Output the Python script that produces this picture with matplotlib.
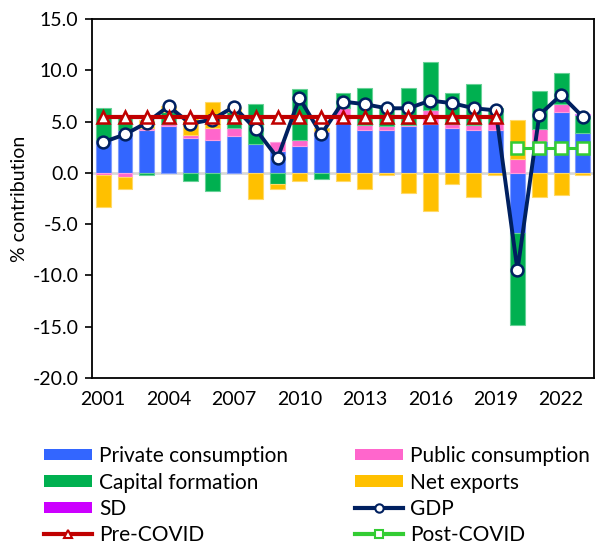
import matplotlib
matplotlib.use("Agg")
import matplotlib.pyplot as plt
from matplotlib.patches import Patch
from matplotlib.lines import Line2D
import numpy as np

years = list(range(2001, 2024))
private_cons = [3.2, 4.2, 4.2, 4.6, 3.4, 3.25, 3.6, 2.85, 2.1, 2.65, 4.0, 4.9, 4.15, 4.15, 4.55,
                4.8, 4.4, 4.15, 4.15, -5.85, 3.1, 5.95, 3.9]
public_cons = [-0.2, -0.4, 0.2, 0.15, 0.25, 1.15, 0.75, 0.0, 0.95, 0.6, 0.1, 1.45, 0.55, 0.4, 0.15,
               1.3, 0.4, 0.55, 0.7, 1.35, 1.15, 0.8, 0.0]
capital_form = [3.15, 1.15, -0.25, 1.2, -0.8, -1.8, 1.6, 3.9, -1.05, 4.9, -0.6, 1.4, 3.6, 2.0, 3.6,
                4.7, 3.0, 4.0, 1.5, -8.95, 3.7, 2.95, 1.7]
net_exports = [-3.15, -1.2, 0.75, 0.55, 1.95, 2.55, 0.5, -2.5, -0.55, -0.8, 0.25, -0.8, -1.6, -0.25, -2.0,
               -3.75, -1.05, -2.35, -0.25, 3.85, -2.35, -2.15, -0.25]
sd = [0, 0, 0, 0, 0, 0, 0, 0, 0, 0, 0, 0, 0, 0, 0, 0, 0, 0, 0, 0, 0, 0, 0.1]
gdp = [3.0, 3.75, 4.9, 6.5, 4.8, 5.2, 6.45, 4.25, 1.45, 7.3, 3.75, 6.95, 6.7, 6.3, 6.3,
       7.05, 6.8, 6.3, 6.1, -9.5, 5.65, 7.6, 5.45]
pre_years = list(range(2001, 2020))
pre_covid = [5.45] * 19
post_years = [2020, 2021, 2022, 2023]
post_covid = [2.4, 2.4, 2.4, 2.4]

xticks = [2001, 2004, 2007, 2010, 2013, 2016, 2019, 2022]
yticks = [15, 10, 5, 0, -5, -10, -15, -20]

plt.rcParams['font.family'] = ['Lato', 'DejaVu Sans']

fig = plt.figure(figsize=(5.95, 5.44), dpi=100)
ax = fig.add_axes([0.155, 0.305, 0.843, 0.66])

series = [
    ("Private consumption", private_cons, "#3366FF", "#7E9CFF"),
    ("Public consumption", public_cons, "#FF66CC", "#FF9EDD"),
    ("Capital formation", capital_form, "#00B050", "#66D196"),
    ("Net exports", net_exports, "#FFC000", "#FFD966"),
    ("SD", sd, "#CC00FF", "#E080FF"),
]

x = np.array(years, dtype=float)
pos_base = np.zeros(len(years))
neg_base = np.zeros(len(years))
for name, vals, col, ecol in series:
    v = np.array(vals, dtype=float)
    pm = v > 0
    nm = v < 0
    if pm.any():
        ax.bar(x[pm], v[pm], bottom=pos_base[pm], width=0.68, color=col, edgecolor=ecol,
               linewidth=0.8, zorder=2)
    if nm.any():
        ax.bar(x[nm], v[nm], bottom=neg_base[nm], width=0.68, color=col, edgecolor=ecol,
               linewidth=0.8, zorder=2)
    pos_base += np.where(pm, v, 0)
    neg_base += np.where(nm, v, 0)

ax.axhline(0, color="#D9D9D9", linewidth=2, zorder=1.5)

ax.plot(years, gdp, color="#002060", linewidth=2.8, marker="o", markersize=8.5,
        markerfacecolor="white", markeredgecolor="#002060", markeredgewidth=1.8, zorder=4)
ax.plot(pre_years, pre_covid, color="#C00000", linewidth=3, marker="^", markersize=9,
        markerfacecolor="white", markeredgecolor="#C00000", markeredgewidth=1.8, zorder=5)
ax.plot(post_years, post_covid, color="#33CC33", linewidth=2.2, marker="s", markersize=8,
        markerfacecolor="white", markeredgecolor="#33CC33", markeredgewidth=1.8, zorder=5)

ax.set_xlim(2000.5, 2023.5)
ax.set_ylim(-20, 15)
ax.set_yticks(yticks)
ax.set_yticklabels([f"{t:.1f}" for t in yticks], fontsize=14)
ax.set_xticks(xticks)
ax.set_xticklabels([str(t) for t in xticks], fontsize=14)
ax.tick_params(axis='x', length=0, pad=9)
ax.tick_params(axis='y', length=5, width=1.2, direction='out', pad=5)
for s in ax.spines.values():
    s.set_color("black")
    s.set_linewidth(1.3)
ax.set_ylabel("% contribution", fontsize=14, labelpad=3)

def line_handle(col, marker, ms):
    return Line2D([0], [0], color=col, linewidth=3, marker=marker, markersize=ms,
                  markerfacecolor="white", markeredgecolor=col, markeredgewidth=1.5)

h_priv = Patch(facecolor="#3366FF", label="Private consumption")
h_pub = Patch(facecolor="#FF66CC", label="Public consumption")
h_cap = Patch(facecolor="#00B050", label="Capital formation")
h_net = Patch(facecolor="#FFC000", label="Net exports")
h_sd = Patch(facecolor="#CC00FF", label="SD")
h_gdp = line_handle("#002060", "o", 6)
h_pre = line_handle("#C00000", "^", 6)
h_post = line_handle("#33CC33", "s", 6)

handles = [h_priv, h_cap, h_sd, h_pre, h_pub, h_net, h_gdp, h_post]
labels = ["Private consumption", "Capital formation", "SD", "Pre-COVID",
          "Public consumption", "Net exports", "GDP", "Post-COVID"]
fig.legend(handles, labels, loc="upper left", bbox_to_anchor=(0.06, 0.195), ncol=2,
           frameon=False, fontsize=15, handlelength=2.3, handleheight=0.45,
           handletextpad=0.35, columnspacing=3.2, labelspacing=0.3, borderaxespad=0)

fig.savefig("out.png", dpi=100)
